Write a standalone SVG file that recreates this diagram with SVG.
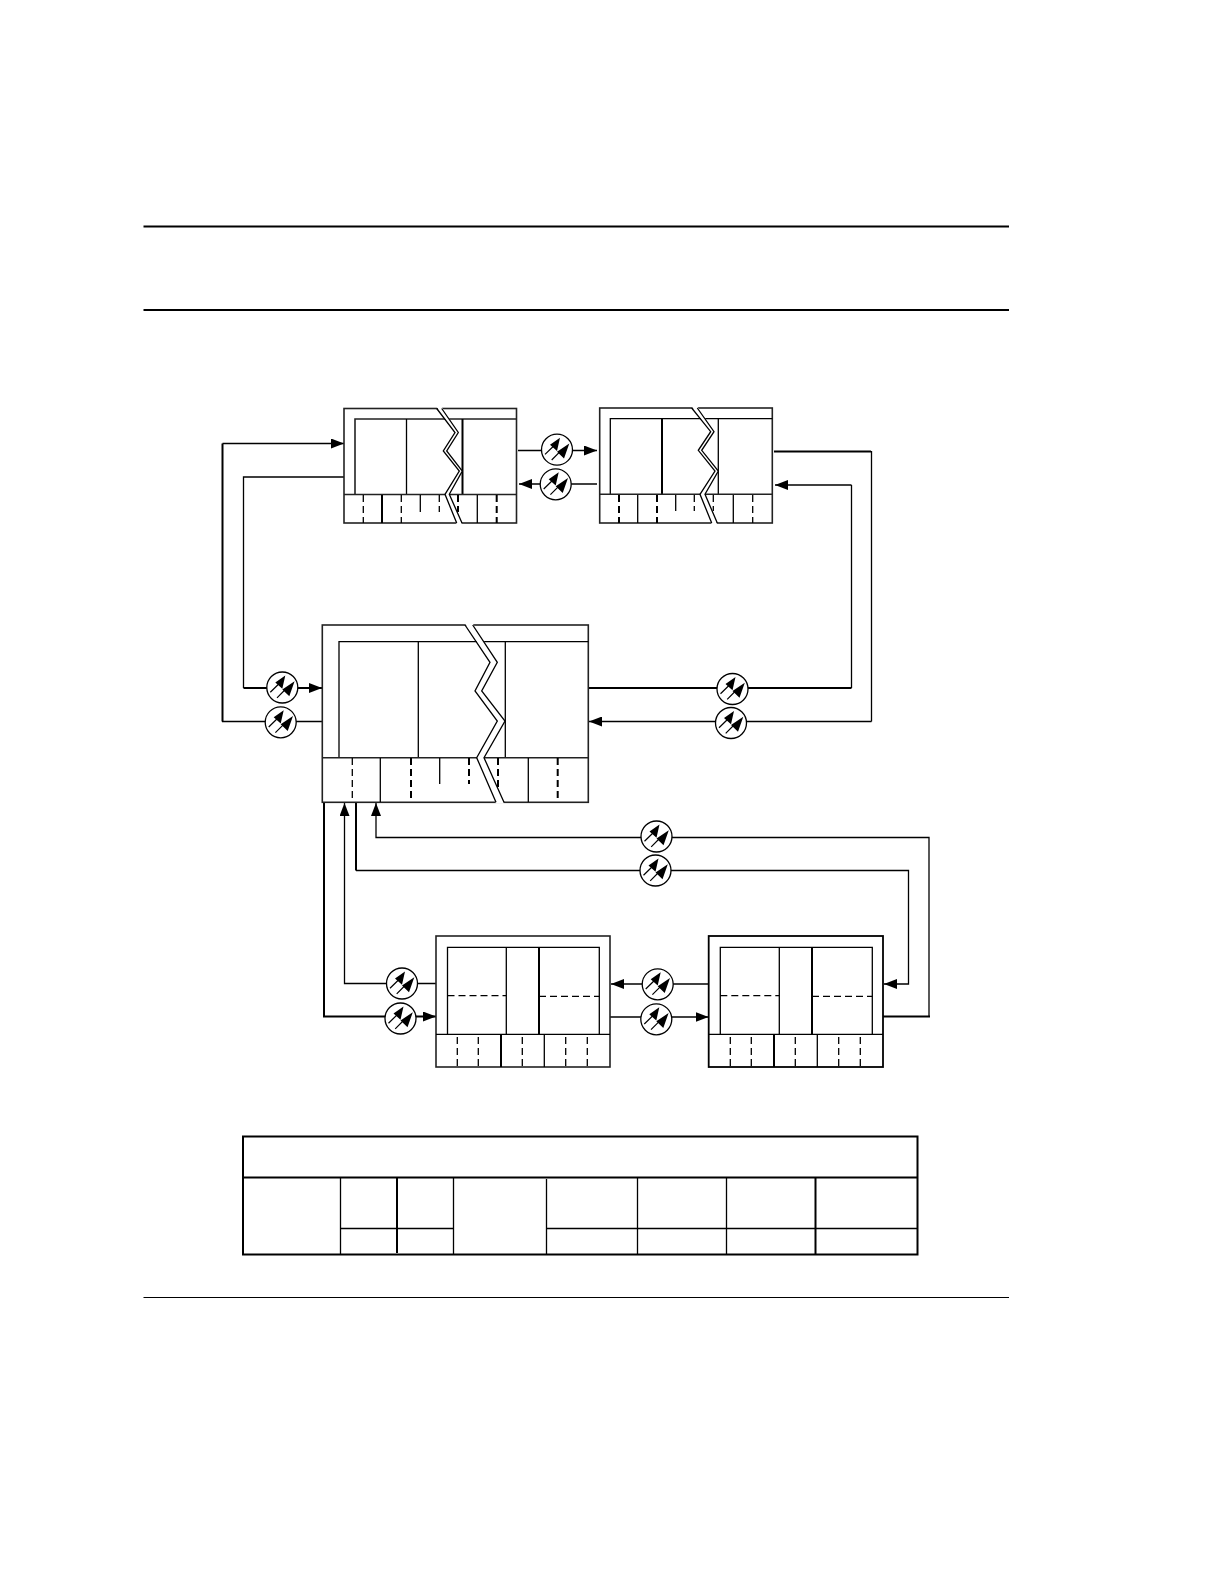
<svg xmlns="http://www.w3.org/2000/svg" xmlns:xlink="http://www.w3.org/1999/xlink" width="1224" height="1584" viewBox="0 0 1224 1584">
<style>
.l{fill:none;stroke:#000;stroke-width:1.3}
.t{fill:none;stroke:#000;stroke-width:2}
.o{fill:none;stroke:#222;stroke-width:1.6}
.d{fill:none;stroke:#000;stroke-width:1.3;stroke-dasharray:7 4}
.dt{fill:none;stroke:#000;stroke-width:2;stroke-dasharray:7 4}
.w{fill:#fff;stroke:none}
.z{fill:none;stroke:#000;stroke-width:1.3;stroke-linejoin:miter}
.c{fill:#fff;stroke:#000;stroke-width:1.3}
</style>
<defs>
<marker id="a" markerUnits="userSpaceOnUse" markerWidth="13" markerHeight="10" refX="13" refY="5" orient="auto"><path d="M0 0L13 5L0 10Z" fill="#000"/></marker>
<g id="opt">
<circle class="c" r="15.5"/>
<path d="M-12 4.700L-2 -5M-5.300 10.300L4 1" stroke="#000" stroke-width="1.200" fill="none"/>
<path d="M3 -12L-7 -5L0 1.300Z M12.300 -6.300L0 2L7 8.700Z" fill="#000"/>
</g>
</defs>
<g id="page-rules">
<path d="M143.500 226.500H1009M143.500 310H1009" fill="none" stroke="#000" stroke-width="2"/>
<path d="M143.500 1297.500H1009" fill="none" stroke="#000" stroke-width="1.200"/>
</g>
<g id="connectors">
<path class="l" d="M518 450.500H597" marker-end="url(#a)"/>
<path class="l" d="M597 484H519" marker-end="url(#a)"/>
<path class="t" d="M774 451.500H871"/><path class="l" d="M871.500 451V721.500"/>
<path class="l" d="M871.500 721.500H589" marker-end="url(#a)"/>
<path class="l" d="M851.500 485H775" marker-end="url(#a)"/><path class="l" d="M851.500 485V688"/>
<path class="t" d="M851.500 688H589"/>
<path class="t" d="M222.500 443.500V721.500"/>
<path class="l" d="M222.500 443.500H344" marker-end="url(#a)"/>
<path class="l" d="M222 721.500H322"/>
<path class="l" d="M344 477H243.500V688"/>
<path class="t" d="M243.500 688H322" marker-end="url(#a)"/>
<path class="l" d="M436 983.500H344.500V803" marker-end="url(#a)"/>
<path class="t" d="M324 802V1016.500H436" marker-end="url(#a)"/>
<path class="t" d="M356 802V870.500"/><path class="l" d="M356 870.500H908.500V984H884" marker-end="url(#a)"/>
<path class="l" d="M929 1016.500V837.500H376V803" marker-end="url(#a)"/>
<path class="t" d="M883 1016.500H930"/>
<path class="l" d="M610 1017H708.500" marker-end="url(#a)"/>
<path class="l" d="M708.500 984H611" marker-end="url(#a)"/>
<use xlink:href="#opt" href="#opt" x="557" y="449.700"/>
<use xlink:href="#opt" href="#opt" x="555.700" y="484.300"/>
<use xlink:href="#opt" href="#opt" x="282.300" y="687.500"/>
<use xlink:href="#opt" href="#opt" x="280.700" y="722.300"/>
<use xlink:href="#opt" href="#opt" x="732.500" y="689"/>
<use xlink:href="#opt" href="#opt" x="731" y="723"/>
<use xlink:href="#opt" href="#opt" x="656.500" y="836.500"/>
<use xlink:href="#opt" href="#opt" x="655.500" y="870.500"/>
<use xlink:href="#opt" href="#opt" x="402" y="983.500"/>
<use xlink:href="#opt" href="#opt" x="400.500" y="1018.500"/>
<use xlink:href="#opt" href="#opt" x="657.700" y="984.300"/>
<use xlink:href="#opt" href="#opt" x="656.300" y="1019.300"/>
</g>
<g id="node-1">
<rect class="o" x="344" y="408.500" width="172.500" height="114.500"/>
<path class="o" d="M355 494.500V419H516.500"/>
<path class="l" d="M406.500 419V494.500"/><path class="t" d="M462.500 419V494.500"/>
<path class="o" d="M344 494.500H516.500"/>
<path class="d" d="M363.300 495V523M401.300 495V523"/><path class="l" d="M477.300 495V523"/><path class="t" d="M382 495V523"/>
<path class="l" d="M420.300 495V512"/><path class="d" d="M439.300 495V512"/>
<path class="dt" d="M458 495V512M496.700 495V523"/>
<polygon class="w" points="436.700,407 441.700,407 458.300,432.500 446.700,451 462.300,471 449.300,494.300 462,524.500 456.700,524.500 445,494.300 459.300,471 443.300,451 455,432.500"/>
<polyline class="z" points="436.700,408.500 455,432.500 443.300,451 459.300,471 445,494.300 456.700,523"/>
<polyline class="z" points="441.700,408.500 458.300,432.500 446.700,451 462.300,471 449.300,494.300 462,523"/>
</g>
<g id="node-2">
<rect class="o" x="599.700" y="408" width="172.600" height="115"/>
<path class="l" d="M610.300 494V418.700H772.300"/>
<path class="t" d="M662 419V494"/><path class="l" d="M718.300 419V494"/>
<path class="o" d="M599.700 494.300H772.300"/>
<path class="dt" d="M619 495V523M657 495V523"/><path class="l" d="M637.700 495V523M733.300 495V523"/>
<path class="l" d="M675.700 495V511"/><path class="d" d="M694.300 495V511"/>
<path class="d" d="M713.300 495V511M752.700 495V523"/>
<polygon class="w" points="691.700,406.500 697.300,406.500 714,431.700 701.700,450.300 718.300,471 705,494.300 717.300,524.500 711.700,524.500 700,494.300 715,471 698.300,450.300 710.700,431.700"/>
<polyline class="z" points="691.700,408 710.700,431.700 698.300,450.300 715,471 700,494.300 711.700,523"/>
<polyline class="z" points="697.300,408 714,431.700 701.700,450.300 718.300,471 705,494.300 717.300,523"/>
</g>
<g id="node-3">
<rect class="o" x="322.300" y="625" width="266" height="177.300"/>
<path class="l" d="M339 757.700V641.700H588.300"/>
<path class="l" d="M418.300 641.700V757.700M505.300 641.700V757.700"/>
<path class="o" d="M322.300 757.700H588.300"/>
<path class="d" d="M352.300 758V802"/><path class="l" d="M380.300 758V802M528.300 758V802"/>
<path class="dt" d="M411 758V802M498 758V790M557.700 758V802"/>
<path class="l" d="M439.700 758V784"/><path class="dt" d="M469 758V784"/>
<polygon class="w" points="465,623.500 472.700,623.500 497.300,662.300 481.700,691 505,721 484,757.700 504,803.500 496,803.500 476.700,757.700 497.300,721 475,691 490,662.300"/>
<polyline class="z" points="465,625 490,662.300 475,691 497.300,721 476.700,757.700 496,802.300"/>
<polyline class="z" points="472.700,625 497.300,662.300 481.700,691 505,721 484,757.700 504,802.300"/>
</g>
<g id="node-4">
<rect class="o" x="436" y="936" width="174" height="131"/>
<path class="l" d="M447.500 1034V947.300H599.300V1034M506.300 947.300V1034"/>
<path class="t" d="M539 947.300V1034"/>
<path class="d" d="M447.500 995.700H506.300M539 996.300H599.300"/>
<path class="l" d="M436 1034.300H610M544.300 1034.300V1067"/><path class="t" d="M501 1034.300V1067"/>
<path class="d" d="M457.300 1037V1067M478.300 1037V1067M522.300 1037V1067M565.700 1037V1067M587.300 1037V1067"/>
</g>
<g id="node-5">
<rect x="708.700" y="936" width="174.300" height="131" fill="none" stroke="#000" stroke-width="1.800"/>
<path class="l" d="M720.300 1034V947.300H872.300V1034M779.300 947.300V1034"/>
<path class="t" d="M812 947.300V1034"/>
<path class="d" d="M720.300 995.700H779.300M812 996.300H872.300"/>
<path class="l" d="M708.700 1034.300H883M817.300 1034.300V1067"/><path class="t" d="M774 1034.300V1067"/>
<path class="d" d="M730.300 1037V1067M751.300 1037V1067M795.300 1037V1067M838.700 1037V1067M860.300 1037V1067"/>
</g>
<g id="table">
<rect x="243" y="1136.500" width="674.500" height="118" fill="none" stroke="#000" stroke-width="2"/>
<path class="t" d="M243 1177.500H917.500"/>
<path class="l" d="M340.500 1177.500V1254M453.500 1177.500V1254M546.500 1179V1254M637.500 1177.500V1254M726.500 1177.500V1254"/>
<path class="t" d="M397 1177.500V1253M815.500 1177.500V1254"/>
<path class="l" d="M340.500 1228.500H453.500M546.500 1228.500H917.500"/>
</g>
</svg>
